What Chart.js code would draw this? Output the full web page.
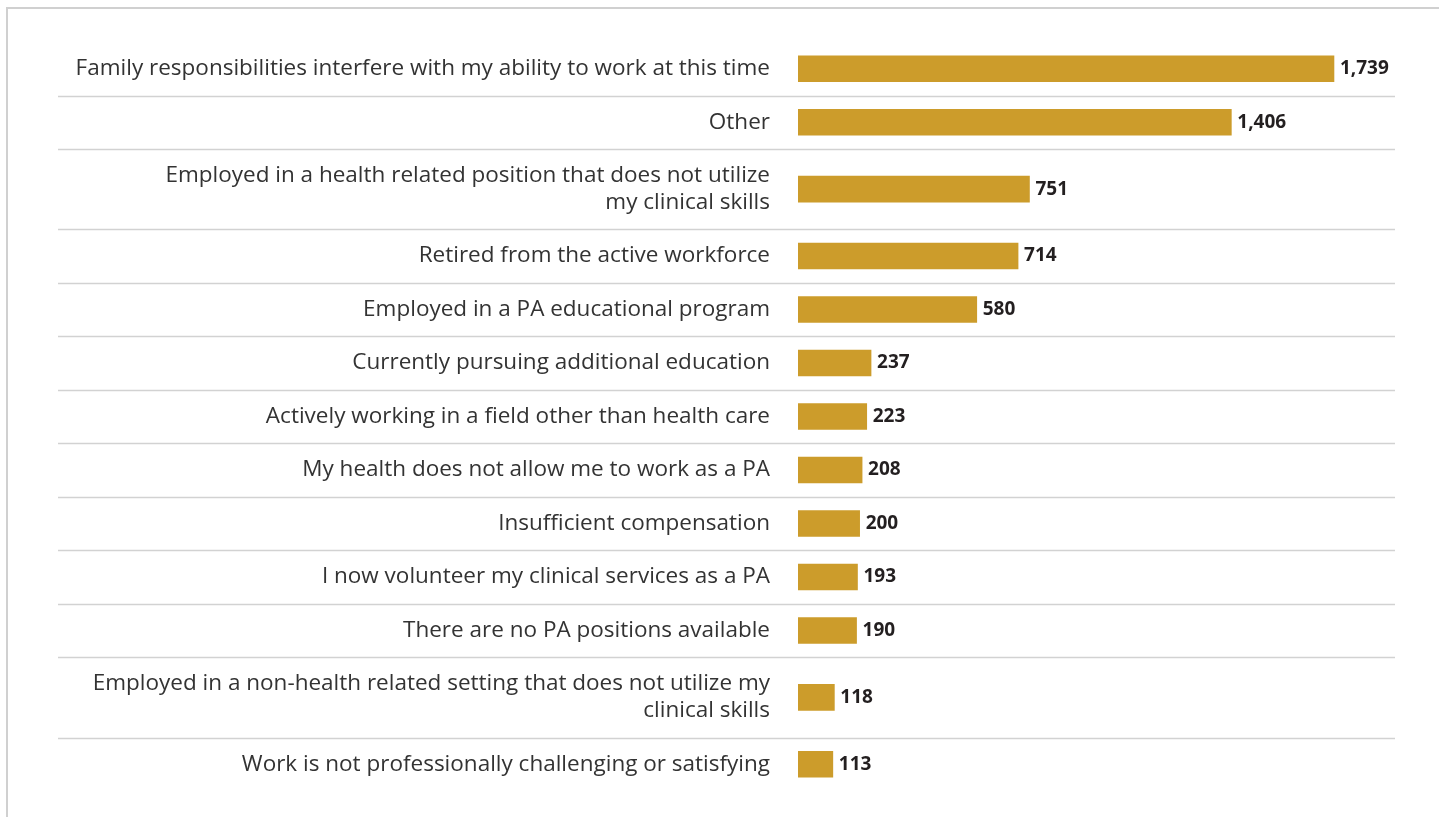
<!DOCTYPE html>
<html>
<head>
<meta charset="utf-8">
<title>Reasons for not working as a PA</title>
<script src="https://cdn.jsdelivr.net/npm/chart.js@4.4.1/dist/chart.umd.min.js"></script>
<style>
    html, body { margin: 0; padding: 0; background: #fff; overflow: hidden; }
    #frame {
        position: absolute; left: 6px; top: 7px; width: 1440px; height: 820px;
        border-left: 2px solid #d0d0d0; border-top: 2px solid #d0d0d0;
    }
    #wrap { position: absolute; left: 0; top: 0; width: 1439px; height: 817px; }
</style>
</head>
<body>
<div id="frame"></div>
<div id="wrap"><canvas id="razlozi"></canvas></div>
<script>
// odgovori (redom odozgo prema dolje)
var kategorije = [
    ["Family responsibilities interfere with my ability to work at this time"],
    ["Other"],
    ["Employed in a health related position that does not utilize", "my clinical skills"],
    ["Retired from the active workforce"],
    ["Employed in a PA educational program"],
    ["Currently pursuing additional education"],
    ["Actively working in a field other than health care"],
    ["My health does not allow me to work as a PA"],
    ["Insufficient compensation"],
    ["I now volunteer my clinical services as a PA"],
    ["There are no PA positions available"],
    ["Employed in a non-health related setting that does not utilize my", "clinical skills"],
    ["Work is not professionally challenging or satisfying"]
];

var brojOdgovora = [1739, 1406, 751, 714, 580, 237, 223, 208, 200, 193, 190, 118, 113];

// redovi s dva retka teksta su visi
var visineRedova = kategorije.map(function (k) { return k.length > 1 ? 1.5 : 1; });

var granice = [0];
visineRedova.forEach(function (v, i) { granice.push(granice[i] + v); });
var sredine = visineRedova.map(function (v, i) { return granice[i] + v / 2; });
var ukupno = granice[granice.length - 1];

var podaci = brojOdgovora.map(function (b, i) { return { x: b, y: sredine[i] }; });

// linije izmedju redova, preko cijele sirine
var razdjelnici = {
    id: 'razdjelnici',
    beforeDatasetsDraw: function (chart) {
        var ctx = chart.ctx;
        var y = chart.scales.y;
        ctx.save();
        ctx.strokeStyle = '#d2d2d2';
        ctx.lineWidth = 1.5;
        for (var i = 1; i < granice.length - 1; i++) {
            var py = Math.round(y.getPixelForValue(granice[i])) + 0.5;
            ctx.beginPath();
            ctx.moveTo(58, py);
            ctx.lineTo(chart.chartArea.right, py);
            ctx.stroke();
        }
        ctx.restore();
    }
};

// vrijednosti na kraju stupca
var vrijednosti = {
    id: 'vrijednosti',
    afterDatasetsDraw: function (chart) {
        var ctx = chart.ctx;
        var meta = chart.getDatasetMeta(0);
        ctx.save();
        ctx.font = 'bold 19px "Open Sans"';
        ctx.fillStyle = '#231f20';
        ctx.textAlign = 'left';
        ctx.textBaseline = 'middle';
        meta.data.forEach(function (bar, i) {
            ctx.fillText(brojOdgovora[i].toLocaleString('en-US'), bar.x + 6, bar.y);
        });
        ctx.restore();
    }
};

var ctx = document.getElementById('razlozi').getContext('2d');
var grafikon = new Chart(ctx, {
    type: 'bar',
    data: {
        datasets: [{
            data: podaci,
            backgroundColor: '#cc9c2b',
            borderWidth: 0,
            barThickness: 26
        }]
    },
    options: {
        indexAxis: 'y',
        responsive: true,
        maintainAspectRatio: false,
        animation: false,
        layout: { padding: { top: 42, bottom: 26, right: 44, left: 0 } },
        plugins: {
            legend: { display: false },
            tooltip: { enabled: false }
        },
        scales: {
            x: {
                type: 'linear',
                display: false,
                min: 0,
                max: 1937
            },
            y: {
                type: 'linear',
                reverse: true,
                offset: false,
                min: 0,
                max: ukupno,
                border: { display: false },
                // razmak od teksta do stupaca ide preko tickLength
                grid: { display: false, drawTicks: true, tickLength: 28 },
                afterBuildTicks: function (scale) {
                    scale.ticks = sredine.map(function (s) { return { value: s }; });
                },
                afterFit: function (scale) {
                    scale.width = 798;
                },
                ticks: {
                    autoSkip: false,
                    padding: 0,
                    color: '#333333',
                    font: { family: '"Open Sans"', size: 22.5, lineHeight: 1.2 },
                    callback: function (value, index) {
                        var k = kategorije[index];
                        return k.length > 1 ? k : k[0];
                    }
                }
            }
        }
    },
    plugins: [razdjelnici, vrijednosti]
});
</script>
</body>
</html>
